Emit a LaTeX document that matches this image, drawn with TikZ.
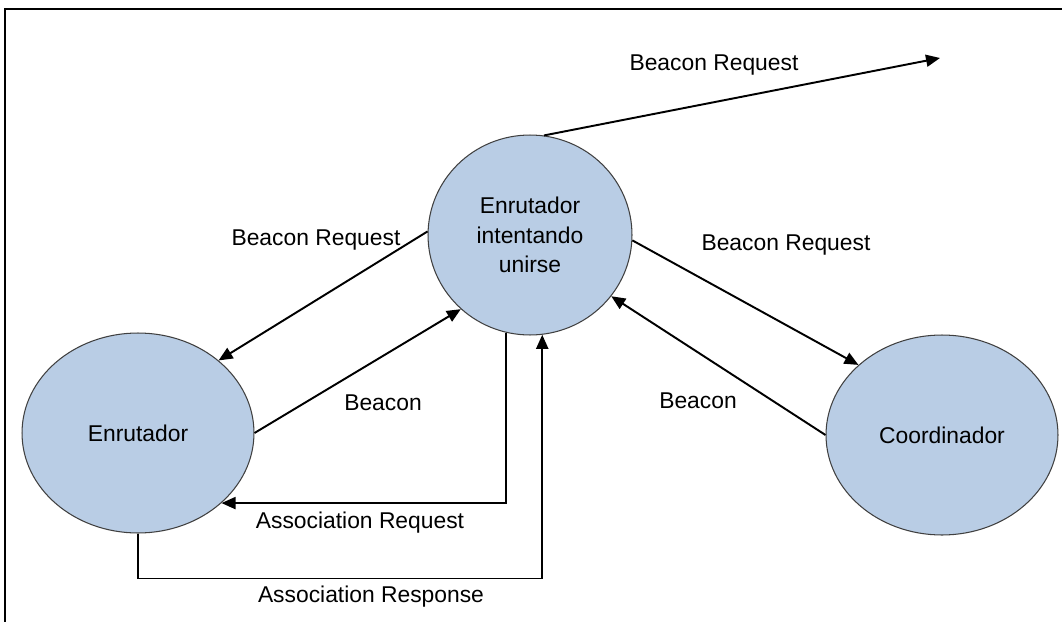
\documentclass[tikz,border=0pt]{standalone}
\usepackage{fontspec}
\setmainfont{Liberation Sans}
\usetikzlibrary{arrows.meta,shapes.geometric}
\definecolor{nodeblue}{HTML}{B9CDE5}
\definecolor{nodeline}{HTML}{404040}
\tikzset{
    state/.style={ellipse, draw=nodeline, line width=0.6pt, fill=nodeblue,
        inner sep=0pt, align=center, font=\fontsize{13}{16.7}\selectfont},
    msg/.style={line width=1.1pt, -{Triangle[length=0.28cm,width=0.24cm]}},
    lbl/.style={font=\fontsize{13}{16}\selectfont, inner sep=0pt}
}
\begin{document}
\begin{tikzpicture}[x=0.02cm, y=-0.02cm]
    \useasboundingbox (0,0) rectangle (1062,622);
    % Draw the frame
    \draw[line width=1.2pt] (5,622) -- (5,9) -- (1062,9);

    % Draw the states
    \node[state, minimum width=4.08cm, minimum height=4cm] (mid) at (530,235)
        {Enrutador\\intentando\\unirse};
    \node[state, minimum width=4.64cm, minimum height=4cm] (enr) at (138,433) {Enrutador};
    \node[state, minimum width=4.64cm, minimum height=4cm] (coord) at (942,435) {Coordinador};
    \coordinate (far) at (940,58);

    % Draw the messages
    \draw[msg] (mid.82) -- (far);
    \draw[msg] (mid.178) -- (enr.42);
    \draw[msg] (enr.0) -- (mid.227);
    \draw[msg] (mid.256) |- (enr.320);
    \draw[msg] (enr.south) -- ++(0,45) -| (mid.277);
    \draw[msg] (mid.357) -- (coord.140);
    \draw[msg] (coord.180) -- (mid.323);

    % Draw the labels
    \node[lbl] (l1) at (714,65) {Beacon Request};
    \node[lbl] (l2) at (316,240) {Beacon Request};
    \node[lbl] (l3) at (786,245) {Beacon Request};
    \node[lbl] (l4) at (383,403) {Beacon};
    \node[lbl] (l5) at (698,401) {Beacon};
    \node[lbl] (l6) at (360,523) {Association Request};
    \node[lbl] (l7) at (371,597) {Association Response};
\end{tikzpicture}
\end{document}
